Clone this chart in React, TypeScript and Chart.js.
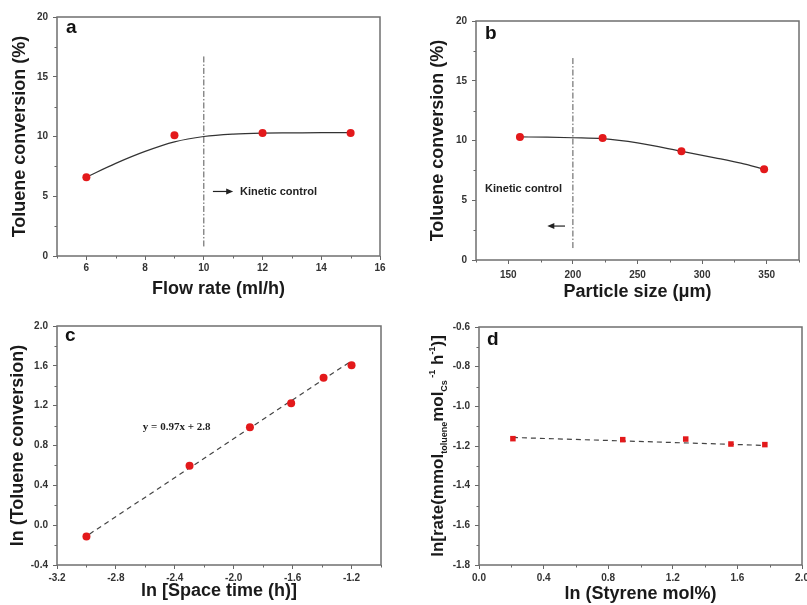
import React, { useEffect, useRef } from 'react';
import { Chart, registerables } from 'chart.js';

Chart.register(...registerables);

// ---------------- Panel a : flow rate ----------------
const flowRates = [6, 9, 12, 15];
const flowConversion = [6.6, 10.1, 10.3, 10.3];
const flowFitX = [6, 7, 8, 9, 10, 11, 12, 13, 14, 15];
const flowFitY = [6.6, 7.75, 8.75, 9.55, 10.0, 10.2, 10.28, 10.3, 10.32, 10.33];
const flowLimitX = [10, 10];
const flowLimitY = [0.8, 16.7];
const flowTicksX = [6, 8, 10, 12, 14, 16];
const flowTickLabelsX = ['6', '8', '10', '12', '14', '16'];
const flowMinorX = [5, 7, 9, 11, 13, 15];
const convTicksY = [0, 5, 10, 15, 20];
const convTickLabelsY = ['0', '5', '10', '15', '20'];
const convMinorY = [2.5, 7.5, 12.5, 17.5];

// ---------------- Panel b : particle size ----------------
const particleSizes = [159, 223, 284, 348];
const particleConversion = [10.3, 10.2, 9.1, 7.6];
const particleFitX = [159, 180, 200, 223, 250, 284, 310, 330, 348];
const particleFitY = [10.3, 10.28, 10.23, 10.15, 9.8, 9.1, 8.55, 8.1, 7.6];
const particleLimitX = [200, 200];
const particleLimitY = [1.0, 16.9];
const particleTicksX = [150, 200, 250, 300, 350];
const particleTickLabelsX = ['150', '200', '250', '300', '350'];
const particleMinorX = [125, 175, 225, 275, 325, 375];

// ---------------- Panel c : ln space time ----------------
const lnSpaceTime = [-3.0, -2.3, -1.89, -1.61, -1.39, -1.2];
const lnConversion = [-0.115, 0.597, 0.983, 1.224, 1.48, 1.605];
const spaceFitX = [-2.98, -1.2];
const spaceFitY = [-0.09, 1.65];
const spaceTicksX = [-3.2, -2.8, -2.4, -2.0, -1.6, -1.2];
const spaceTickLabelsX = ['-3.2', '-2.8', '-2.4', '-2.0', '-1.6', '-1.2'];
const spaceMinorX = [-3.0, -2.6, -2.2, -1.8, -1.4, -1.0];
const lnConvTicksY = [-0.4, 0, 0.4, 0.8, 1.2, 1.6, 2.0];
const lnConvTickLabelsY = ['-0.4', '0.0', '0.4', '0.8', '1.2', '1.6', '2.0'];
const lnConvMinorY = [-0.2, 0.2, 0.6, 1.0, 1.4, 1.8];

// ---------------- Panel d : ln styrene ----------------
const lnStyrene = [0.21, 0.89, 1.28, 1.56, 1.77];
const lnRate = [-1.163, -1.168, -1.165, -1.19, -1.193];
const styreneFitX = [0.21, 1.77];
const styreneFitY = [-1.157, -1.197];
const styreneTicksX = [0, 0.4, 0.8, 1.2, 1.6, 2.0];
const styreneTickLabelsX = ['0.0', '0.4', '0.8', '1.2', '1.6', '2.0'];
const styreneMinorX = [0.2, 0.6, 1.0, 1.4, 1.8];
const rateTicksY = [-1.8, -1.6, -1.4, -1.2, -1.0, -0.8, -0.6];
const rateTickLabelsY = ['-1.8', '-1.6', '-1.4', '-1.2', '-1.0', '-0.8', '-0.6'];
const rateMinorY = [-1.7, -1.5, -1.3, -1.1, -0.9, -0.7];

const SANS = '"Liberation Sans", Arial, Helvetica, sans-serif';
const SERIF = '"Liberation Serif", "Times New Roman", serif';
const RED = '#e3191b';

const pts = (xs: number[], ys: number[]) => xs.map((x, i) => ({ x, y: ys[i] }));

const decoPlugin = {
  id: 'deco',
  afterDraw(chart: any, _args: any, o: any) {
    const { ctx, chartArea: a, scales } = chart;
    const xs = scales.x;
    const ys = scales.y;
    ctx.save();
    // minor ticks
    ctx.strokeStyle = '#666';
    ctx.lineWidth = 1;
    ctx.beginPath();
    (o.minorX || []).forEach((v: number) => {
      const px = Math.round(xs.getPixelForValue(v)) + 0.5;
      ctx.moveTo(px, a.bottom);
      ctx.lineTo(px, a.bottom + 2.5);
    });
    (o.minorY || []).forEach((v: number) => {
      const py = Math.round(ys.getPixelForValue(v)) + 0.5;
      ctx.moveTo(a.left, py);
      ctx.lineTo(a.left - 2.5, py);
    });
    ctx.stroke();
    // frame
    ctx.strokeStyle = '#6f6f6f';
    ctx.lineWidth = 1.5;
    ctx.strokeRect(a.left, a.top, a.right - a.left, a.bottom - a.top);
    // panel letter
    ctx.fillStyle = '#111';
    ctx.font = `bold 19px ${SANS}`;
    ctx.textAlign = 'left';
    ctx.textBaseline = 'alphabetic';
    ctx.fillText(o.letter, a.left + o.letterDx, a.top + o.letterDy);
    // notes
    (o.notes || []).forEach((n: any) => {
      ctx.font = n.font;
      ctx.fillStyle = '#222';
      ctx.textAlign = 'left';
      ctx.textBaseline = 'middle';
      ctx.fillText(n.text, xs.getPixelForValue(n.x), ys.getPixelForValue(n.y));
    });
    // arrows
    (o.arrows || []).forEach((ar: any) => {
      const x1 = xs.getPixelForValue(ar.x1);
      const x2 = xs.getPixelForValue(ar.x2);
      const y = ys.getPixelForValue(ar.y);
      const dir = x2 > x1 ? 1 : -1;
      ctx.strokeStyle = '#222';
      ctx.fillStyle = '#222';
      ctx.lineWidth = 1.2;
      ctx.beginPath();
      ctx.moveTo(x1, y);
      ctx.lineTo(x2 - dir * 5, y);
      ctx.stroke();
      ctx.beginPath();
      ctx.moveTo(x2, y);
      ctx.lineTo(x2 - dir * 7, y - 3);
      ctx.lineTo(x2 - dir * 7, y + 3);
      ctx.closePath();
      ctx.fill();
    });
    // rich y title
    if (o.richY) {
      const r = o.richY;
      const cy = (a.top + a.bottom) / 2;
      const mainFont = `bold 17px ${SANS}`;
      const smallFont = `bold 9px ${SANS}`;
      let total = 0;
      const widths = r.segs.map((s: any) => {
        ctx.font = s.k === 'main' ? mainFont : smallFont;
        const w = ctx.measureText(s.t).width;
        total += w;
        return w;
      });
      ctx.translate(r.x + 6, cy);
      ctx.rotate(-Math.PI / 2);
      ctx.fillStyle = '#1a1a1a';
      ctx.textAlign = 'left';
      ctx.textBaseline = 'alphabetic';
      let cx = -total / 2;
      r.segs.forEach((s: any, i: number) => {
        ctx.font = s.k === 'main' ? mainFont : smallFont;
        const dy = s.k === 'sub' ? 4 : s.k === 'sup' ? -8 : 0;
        ctx.fillText(s.t, cx, dy);
        cx += widths[i];
      });
    }
    ctx.restore();
  },
};

type AxisSpec = {
  min: number;
  max: number;
  ticks: number[];
  labels: string[];
  title?: string;
  titlePad: number;
  tickPad: number;
};

type PanelSpec = {
  box: { left: number; top: number; w: number; h: number };
  pad: { left: number; top: number; right: number; bottom: number };
  yWidth: number;
  xHeight: number;
  x: AxisSpec;
  y: AxisSpec;
  datasets: any[];
  deco: any;
};

function axis(spec: AxisSpec, horizontal: boolean, size: number) {
  return {
    type: 'linear',
    position: horizontal ? 'bottom' : 'left',
    min: spec.min,
    max: spec.max,
    bounds: 'data',
    afterBuildTicks: (s: any) => {
      s.ticks = spec.ticks.map((v) => ({ value: v }));
    },
    afterFit: (s: any) => {
      if (horizontal) s.height = size;
      else s.width = size;
    },
    ticks: {
      autoSkip: false,
      maxRotation: 0,
      minRotation: 0,
      padding: spec.tickPad,
      color: '#333',
      font: { family: SANS, size: 10, weight: 'bold' },
      callback: (_v: any, i: number) => spec.labels[i],
    },
    grid: {
      drawOnChartArea: false,
      drawTicks: true,
      tickLength: 4,
      color: '#666',
      tickColor: '#666',
      lineWidth: 1,
    },
    border: { display: false },
    title: {
      display: !!spec.title,
      text: spec.title || '',
      color: '#1a1a1a',
      font: { family: SANS, size: 18, weight: 'bold' },
      padding: horizontal ? { top: 0, bottom: spec.titlePad } : { top: spec.titlePad, bottom: 0 },
    },
  };
}

function Panel({ spec }: { spec: PanelSpec }) {
  const ref = useRef<HTMLCanvasElement>(null);
  useEffect(() => {
    const chart = new Chart(ref.current as HTMLCanvasElement, {
      type: 'scatter',
      data: { datasets: spec.datasets },
      options: {
        animation: false,
        responsive: false,
        devicePixelRatio: 1,
        events: [],
        layout: { padding: spec.pad },
        scales: {
          x: axis(spec.x, true, spec.xHeight) as any,
          y: axis(spec.y, false, spec.yWidth) as any,
        },
        plugins: {
          legend: { display: false },
          tooltip: { enabled: false },
          deco: spec.deco,
        } as any,
      },
      plugins: [decoPlugin as any],
    });
    return () => chart.destroy();
  }, []);
  const { left, top, w, h } = spec.box;
  return (
    <canvas
      ref={ref}
      width={w}
      height={h}
      style={{ position: 'absolute', left, top, width: w, height: h }}
    />
  );
}

const pointSet = (data: any[], square = false) => ({
  data,
  showLine: false,
  pointRadius: square ? 3.9 : 4,
  pointStyle: square ? 'rect' : 'circle',
  pointBackgroundColor: RED,
  pointBorderColor: RED,
  pointBorderWidth: 0,
});

const curveSet = (data: any[]) => ({
  data,
  showLine: true,
  pointRadius: 0,
  borderColor: '#333',
  borderWidth: 1.2,
  cubicInterpolationMode: 'monotone',
});

const dashSet = (data: any[]) => ({
  data,
  showLine: true,
  pointRadius: 0,
  borderColor: '#444',
  borderWidth: 1.2,
  borderDash: [5, 4],
});

const limitSet = (data: any[]) => ({
  data,
  showLine: true,
  pointRadius: 0,
  borderColor: '#555',
  borderWidth: 1,
  borderDash: [6, 2, 1.5, 2],
});

const panels: PanelSpec[] = [
  {
    box: { left: 0, top: 0, w: 403, h: 300 },
    pad: { left: 0, top: 17, right: 23, bottom: 0 },
    yWidth: 57,
    xHeight: 44,
    x: { min: 5, max: 16, ticks: flowTicksX, labels: flowTickLabelsX, title: 'Flow rate (ml/h)', titlePad: 0, tickPad: 2 },
    y: { min: 0, max: 20, ticks: convTicksY, labels: convTickLabelsY, title: 'Toluene conversion (%)', titlePad: 9, tickPad: 5 },
    datasets: [
      pointSet(pts(flowRates, flowConversion)),
      curveSet(pts(flowFitX, flowFitY)),
      limitSet(pts(flowLimitX, flowLimitY)),
    ],
    deco: {
      letter: 'a', letterDx: 9, letterDy: 16,
      minorX: flowMinorX, minorY: convMinorY,
      notes: [{ text: 'Kinetic control', x: 11.23, y: 5.4, font: `bold 11px ${SANS}` }],
      arrows: [{ x1: 10.31, x2: 11.0, y: 5.4 }],
    },
  },
  {
    box: { left: 403, top: 0, w: 404, h: 310 },
    pad: { left: 0, top: 21, right: 8, bottom: 0 },
    yWidth: 73,
    xHeight: 50,
    x: { min: 125, max: 375, ticks: particleTicksX, labels: particleTickLabelsX, title: 'Particle size (\u03bcm)', titlePad: 7, tickPad: 5 },
    y: { min: 0, max: 20, ticks: convTicksY, labels: convTickLabelsY, title: 'Toluene conversion (%)', titlePad: 24, tickPad: 5 },
    datasets: [
      pointSet(pts(particleSizes, particleConversion)),
      curveSet(pts(particleFitX, particleFitY)),
      limitSet(pts(particleLimitX, particleLimitY)),
    ],
    deco: {
      letter: 'b', letterDx: 9, letterDy: 18,
      minorX: particleMinorX, minorY: convMinorY,
      notes: [{ text: 'Kinetic control', x: 132, y: 5.93, font: `bold 11px ${SANS}` }],
      arrows: [{ x1: 193.9, x2: 180.2, y: 2.84 }],
    },
  },
  {
    box: { left: 0, top: 300, w: 403, h: 305 },
    pad: { left: 0, top: 26, right: 22, bottom: 0 },
    yWidth: 57,
    xHeight: 40,
    x: { min: -3.2, max: -1.0, ticks: spaceTicksX, labels: spaceTickLabelsX, title: 'ln [Space time (h)]', titlePad: 3, tickPad: 3 },
    y: { min: -0.4, max: 2.0, ticks: lnConvTicksY, labels: lnConvTickLabelsY, title: 'ln (Toluene conversion)', titlePad: 7.5, tickPad: 5 },
    datasets: [
      pointSet(pts(lnSpaceTime, lnConversion)),
      dashSet(pts(spaceFitX, spaceFitY)),
    ],
    deco: {
      letter: 'c', letterDx: 8, letterDy: 15,
      minorX: spaceMinorX, minorY: lnConvMinorY,
      notes: [{ text: 'y = 0.97x + 2.8', x: -2.617, y: 0.98, font: `bold 11px ${SERIF}` }],
    },
  },
  {
    box: { left: 403, top: 300, w: 420, h: 305 },
    pad: { left: 0, top: 27, right: 21, bottom: 0 },
    yWidth: 76,
    xHeight: 40,
    x: { min: 0, max: 2.0, ticks: styreneTicksX, labels: styreneTickLabelsX, title: 'ln (Styrene mol%)', titlePad: 0, tickPad: 3 },
    y: { min: -1.8, max: -0.6, ticks: rateTicksY, labels: rateTickLabelsY, titlePad: 0, tickPad: 5 },
    datasets: [
      pointSet(pts(lnStyrene, lnRate), true),
      dashSet(pts(styreneFitX, styreneFitY)),
    ],
    deco: {
      letter: 'd', letterDx: 8, letterDy: 18,
      minorX: styreneMinorX, minorY: rateMinorY,
      richY: {
        x: 33.7,
        segs: [
          { t: 'ln[rate(mmol', k: 'main' },
          { t: 'toluene', k: 'sub' },
          { t: 'mol', k: 'main' },
          { t: 'Cs', k: 'sub' },
          { t: ' -1', k: 'sup' },
          { t: ' h', k: 'main' },
          { t: '-1', k: 'sup' },
          { t: ')]', k: 'main' },
        ],
      },
    },
  },
];

export default function App() {
  return (
    <div
      style={{
        position: 'fixed',
        left: 0,
        top: 0,
        width: 807,
        height: 605,
        overflow: 'hidden',
        background: '#fff',
      }}
    >
      {panels.map((p, i) => (
        <Panel key={i} spec={p} />
      ))}
    </div>
  );
}
